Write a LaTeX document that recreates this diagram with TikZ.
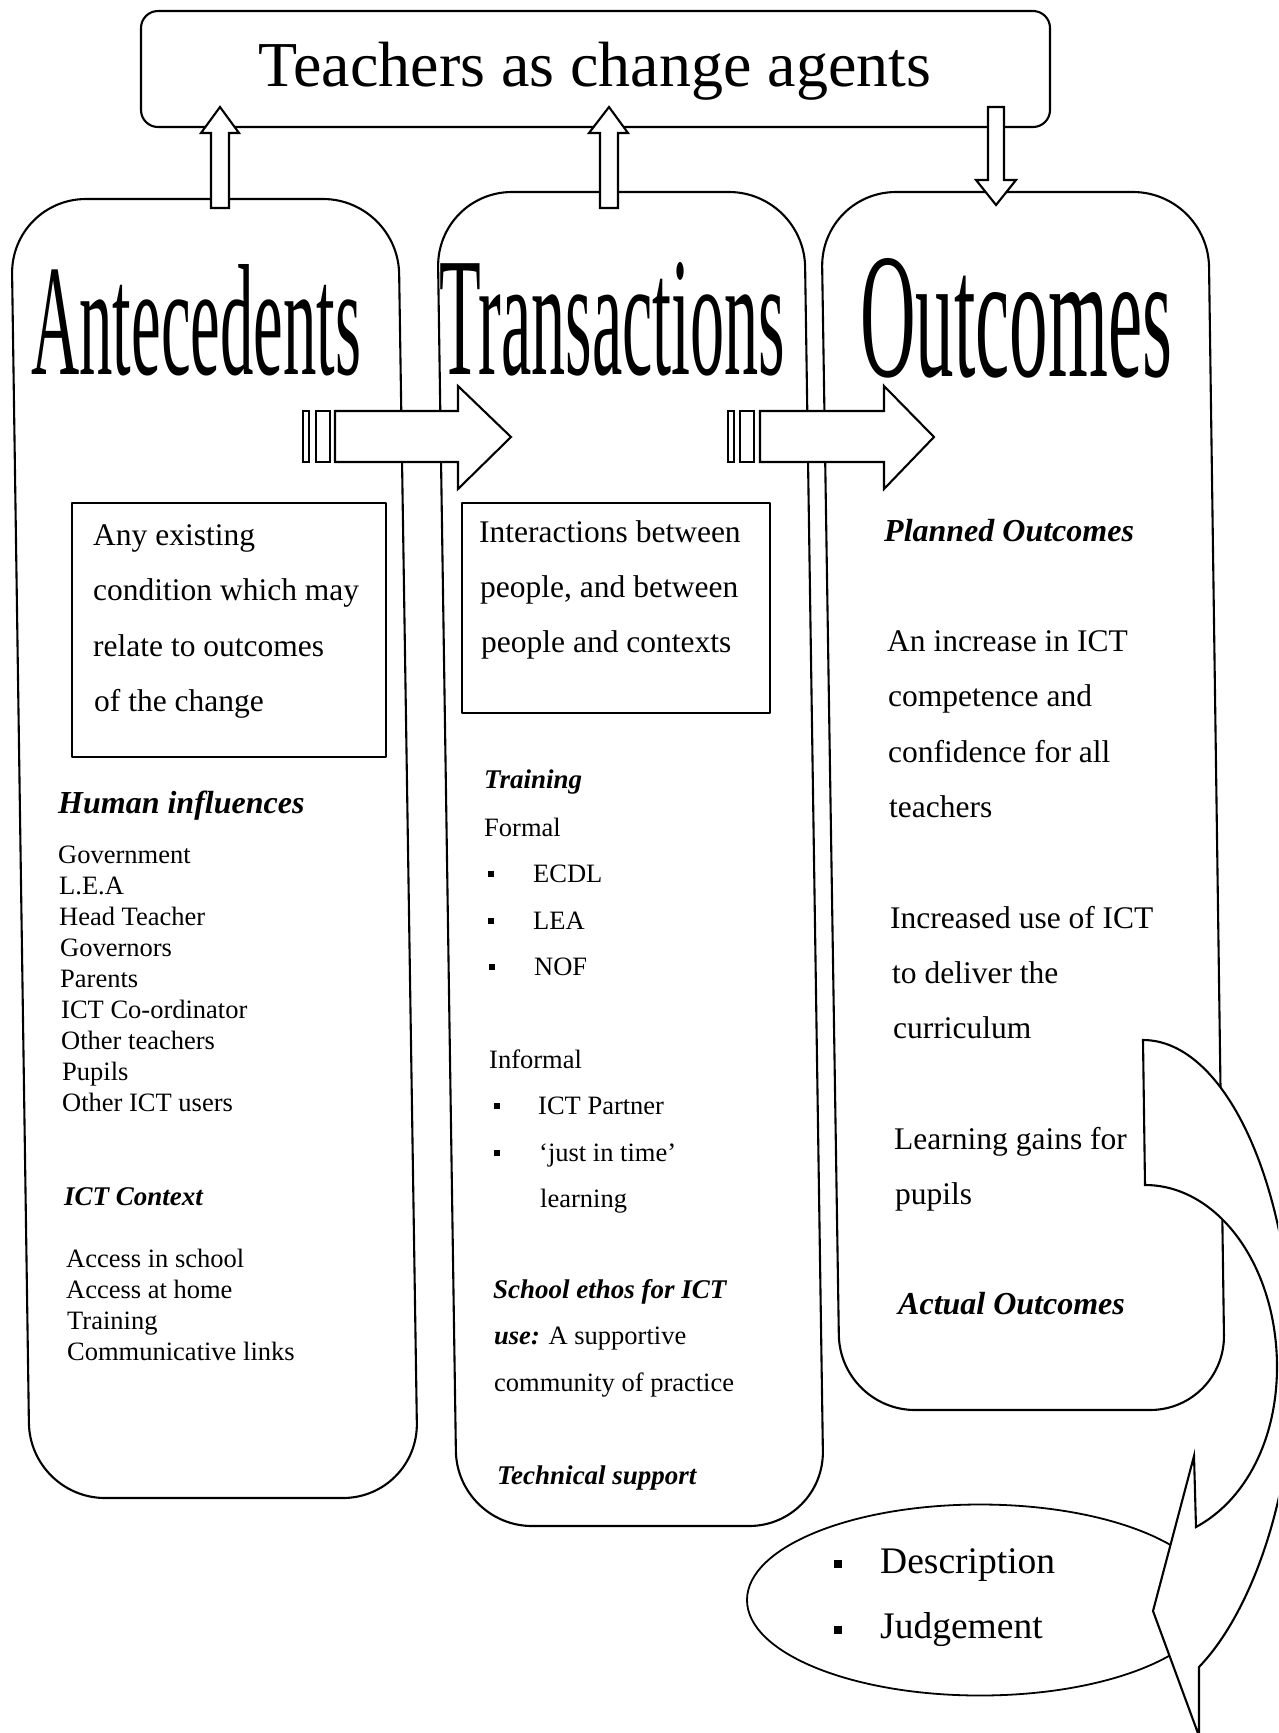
\documentclass[tikz,border=0pt]{standalone}
\usepackage{fontspec}
\setmainfont{Liberation Serif}
\usepackage{graphicx}
\usetikzlibrary{shapes.geometric}
\begin{document}
\begin{tikzpicture}[x=1pt,y=-1pt,
  line join=round,
  col/.style={draw, line width=2.1pt, rounded corners=75pt},
  ibox/.style={draw, line width=2.1pt},
  blk/.style={draw, fill=white, line width=2.1pt, line join=miter},
  tl/.style={anchor=base west, inner sep=0pt, font=\fontsize{31.5}{36}\selectfont},
  sl/.style={anchor=base west, inner sep=0pt, font=\fontsize{26.5}{30}\selectfont},
  hb/.style={anchor=base west, inner sep=0pt, font=\fontsize{32}{36}\selectfont\bfseries\itshape},
  hs/.style={anchor=base west, inner sep=0pt, font=\fontsize{27}{30}\selectfont\bfseries\itshape},
  bul/.style={fill=black, inner sep=0pt, minimum size=6.5pt},
  bigbul/.style={fill=black, inner sep=0pt, minimum size=7.5pt},
  head/.style={anchor=base west, inner sep=0pt},
]
\useasboundingbox (0,0) rectangle (1278,1733);
\clip (0,0) rectangle (1278,1733);

% title
\node (title) [draw, line width=2.1pt, rounded corners=17pt, minimum width=909pt, minimum height=116pt, inner sep=0pt] at (595.5,69) {};
\node (ttl) [anchor=base, inner sep=0pt, font=\fontsize{64}{70}\selectfont] at (595,86) {Teachers as change agents};

% columns
\draw[col] (11,199) -- (398,199) -- (418,1498) -- (30,1498) -- cycle;
\draw[col] (437,192) -- (804,192) -- (824,1526) -- (457,1526) -- cycle;
\draw[col] (821,192) -- (1208,192) -- (1225,1410) -- (840,1410) -- cycle;

% headings
\node (hA) [head] at (31,374) {\resizebox{330pt}{110pt}{Antecedents}};
\node (hT) [head] at (439,374) {\resizebox{346pt}{112pt}{Transactions}};
\node (hO) [head] at (860,376) {\resizebox{312pt}{118pt}{Outcomes}};

% inner boxes
\draw[ibox] (72,503) rectangle (386,757);
\draw[ibox] (462,503) rectangle (770,713);

% Antecedents text
\node (a1) [tl] at (93,545) {Any existing};
\node (a2) [tl] at (93,600) {condition which may};
\node (a3) [tl] at (93,656) {relate to outcomes};
\node (a4) [tl] at (94,711) {of the change};
\node (hi) [hb] at (58,813) {Human influences};
\node (l1) [sl] at (58,863) {Government};
\node (l2) [sl] at (59,894) {L.E.A};
\node (l3) [sl] at (59,925) {Head Teacher};
\node (l4) [sl] at (60,956) {Governors};
\node (l5) [sl] at (60,987) {Parents};
\node (l6) [sl] at (61,1018) {ICT Co-ordinator};
\node (l7) [sl] at (61,1049) {Other teachers};
\node (l8) [sl] at (62,1080) {Pupils};
\node (l9) [sl] at (62,1111) {Other ICT users};
\node (ic) [hs] at (64,1205) {ICT Context};
\node (c1) [sl] at (66,1267) {Access in school};
\node (c2) [sl] at (66,1298) {Access at home};
\node (c3) [sl] at (67,1329) {Training};
\node (c4) [sl] at (67,1360) {Communicative links};

% Transactions text
\node (t1) [tl] at (479,542) {Interactions between};
\node (t2) [tl] at (480,597) {people, and between};
\node (t3) [tl] at (481,652) {people and contexts};
\node (tr) [hs] at (484,788) {Training};
\node (fo) [sl] at (484,836) {Formal};
\node (bu1) [bul] at (491,874) {};
\node (f1) [sl] at (533,882) {ECDL};
\node (bu2) [bul] at (491,921) {};
\node (f2) [sl] at (533,929) {LEA};
\node (bu3) [bul] at (492,967) {};
\node (f3) [sl] at (534,975) {NOF};
\node (inf) [sl] at (489,1068) {Informal};
\node (bu4) [bul] at (497,1106) {};
\node (i1) [sl] at (538,1114) {ICT Partner};
\node (bu5) [bul] at (497,1153) {};
\node (i2) [sl] at (539,1161) {‘just in time’};
\node (i3) [sl] at (540,1207) {learning};
\node (se1) [hs] at (493,1298) {School ethos for ICT};
\node (se2) [sl] at (494,1344) {\bfseries\itshape use:\mdseries\upshape{} A supportive};
\node (se3) [sl] at (494,1391) {community of practice};
\node (ts) [hs] at (497,1484) {Technical support};

% Outcomes text
\node (po) [hb] at (884,541) {Planned Outcomes};
\node (o1) [tl] at (887,651) {An increase in ICT};
\node (o2) [tl] at (888,706) {competence and};
\node (o3) [tl] at (888,762) {confidence for all};
\node (o4) [tl] at (889,817) {teachers};
\node (o5) [tl] at (890,928) {Increased use of ICT};
\node (o6) [tl] at (892,983) {to deliver the};
\node (o7) [tl] at (893,1038) {curriculum};
\node (o8) [tl] at (894,1149) {Learning gains for};
\node (o9) [tl] at (895,1204) {pupils};
\node (ao) [hb] at (898,1314) {Actual Outcomes};

% horizontal striped arrows
\draw[blk] (303,411) rectangle (309,462);
\draw[blk] (316,411) rectangle (330,462);
\draw[blk] (335,411) -- (458,411) -- (458,386) -- (511,437) -- (458,489) -- (458,462) -- (335,462) -- cycle;
\draw[blk] (728,411) rectangle (734,462);
\draw[blk] (740,411) rectangle (754,462);
\draw[blk] (760,411) -- (884,411) -- (884,386) -- (934,437) -- (884,489) -- (884,462) -- (760,462) -- cycle;

% vertical arrows to/from title
\draw[blk] (211,208) -- (211,133) -- (201,133) -- (220,107) -- (239,133) -- (229,133) -- (229,208) -- cycle;
\draw[blk] (600,208) -- (600,133) -- (589,133) -- (609,107) -- (628,133) -- (618,133) -- (618,208) -- cycle;
\draw[blk] (988,107) -- (988,180) -- (976,180) -- (996,205) -- (1016,180) -- (1004,180) -- (1004,107) -- cycle;

% ellipse
\node (ell) [draw, ellipse, line width=1.8pt, minimum width=466pt, minimum height=191pt, inner sep=0pt] at (980,1600) {};
\node (eb1) [bigbul] at (838,1564) {};
\node (e1) [anchor=base west, inner sep=0pt, font=\fontsize{37.5}{42}\selectfont] at (880,1573) {Description};
\node (eb2) [bigbul] at (838,1630) {};
\node (e2) [anchor=base west, inner sep=0pt, font=\fontsize{37.5}{42}\selectfont] at (880,1638) {Judgement};

% curved arrow
\draw[blk] (1143,1040) .. controls (1226,1040) and (1293,1188) .. (1293,1370)
  .. controls (1293,1497) and (1251,1613) .. (1199,1667)
  -- (1199,1736) -- (1153,1611) -- (1194,1456) -- (1196,1527)
  .. controls (1246,1500) and (1277,1439) .. (1277,1367)
  .. controls (1277,1266) and (1218,1185) .. (1145,1185) -- cycle;
\end{tikzpicture}
\end{document}
